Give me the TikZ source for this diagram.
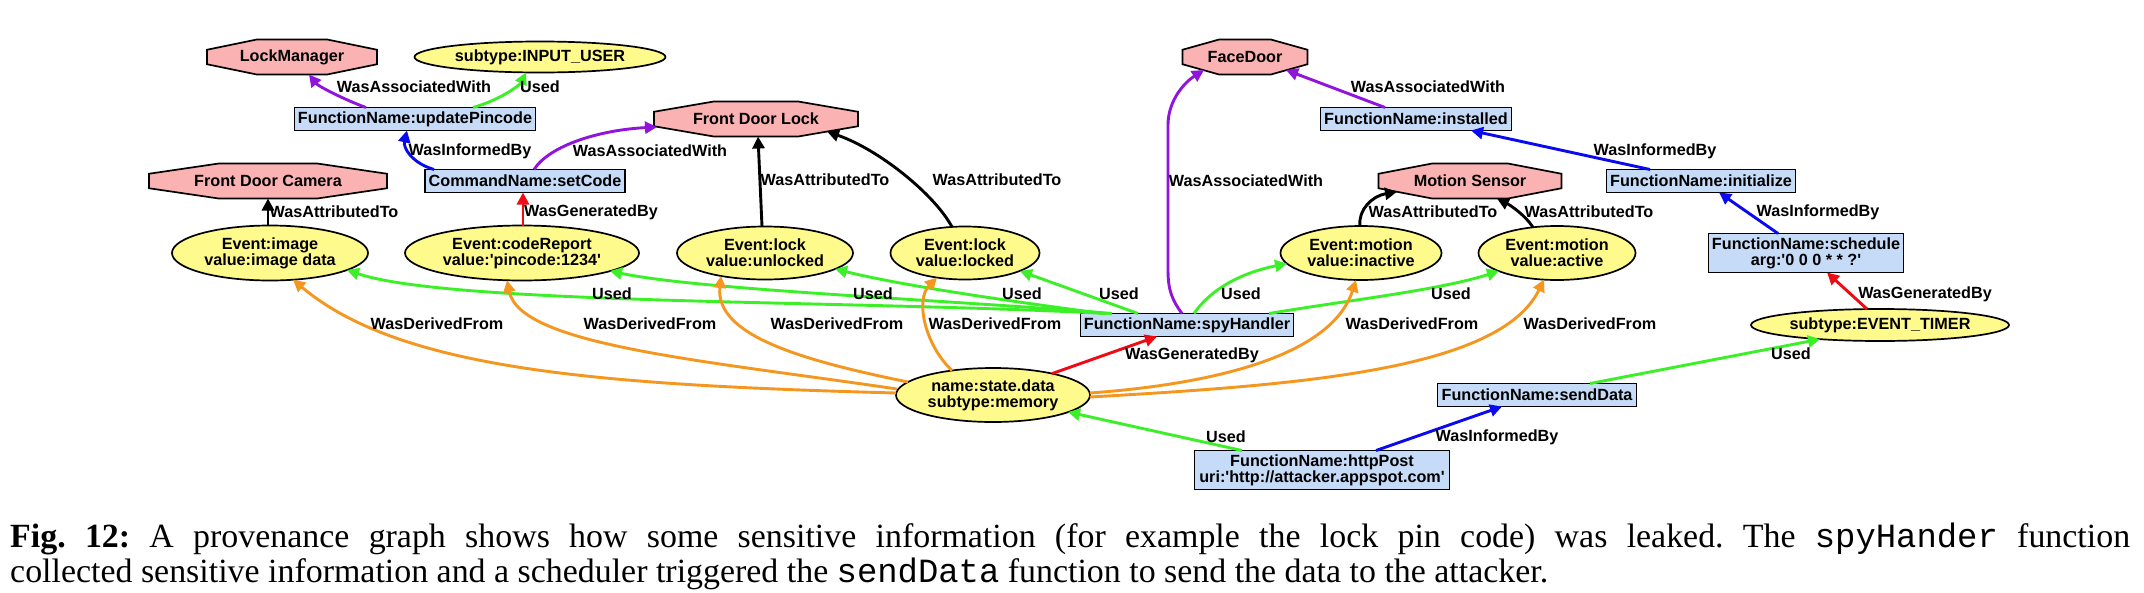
\documentclass[tikz,border=0pt]{standalone}
\usepackage{fontspec}
\setmainfont{Liberation Serif}
\setmonofont{Liberation Mono}
\newfontfamily\gvfont{Liberation Sans}[Ligatures=TeXOff]
\usetikzlibrary{shapes.geometric,arrows.meta,calc}
\definecolor{octpink}{RGB}{250,178,178}
\definecolor{ellyel}{RGB}{255,250,140}
\definecolor{boxblue}{RGB}{198,219,247}
\definecolor{epurple}{RGB}{145,20,220}
\definecolor{egreen}{RGB}{60,240,40}
\definecolor{eblue}{RGB}{10,10,240}
\definecolor{ered}{RGB}{240,10,20}
\definecolor{eorange}{RGB}{245,150,30}
\tikzset{
 gv/.style={font=\gvfont\bfseries\fontsize{16.2}{16}\selectfont},
 ell/.style={gv, ellipse, draw, line width=1.7pt, fill=ellyel, inner sep=0pt, align=center},
 box/.style={gv, rectangle, draw, line width=1.7pt, fill=boxblue, inner sep=0pt, align=center, minimum height=23pt},
 octtext/.style={gv, rectangle, inner sep=0pt},
 octshape/.style={draw, line width=1.7pt, fill=octpink},
 lbl/.style={gv, inner sep=0pt},
 edge/.style={line width=2.9pt, -{Triangle[length=12pt,width=12pt]}},
 captxt/.style={anchor=base west, inner sep=0pt, font=\frenchspacing\fontsize{33.9}{38}\selectfont},
}
\newcommand\octnode[6]{%
 \path[octshape] ({#2-#4/2},{#3-0.207*#5}) -- ({#2-0.207*#4},{#3-#5/2}) -- ({#2+0.207*#4},{#3-#5/2}) -- ({#2+#4/2},{#3-0.207*#5}) -- ({#2+#4/2},{#3+0.207*#5}) -- ({#2+0.207*#4},{#3+#5/2}) -- ({#2-0.207*#4},{#3+#5/2}) -- ({#2-#4/2},{#3+0.207*#5}) -- cycle;
 \node[octtext, minimum width=#4pt, minimum height=#5pt] (#1) at (#2,#3) {#6};}
\begin{document}
\begin{tikzpicture}[x=1pt,y=-1pt]
\fill[white] (0,0) rectangle (2144,592);
\useasboundingbox (0,0) rectangle (2144,592);
% octagons
\octnode{lockmgr}{292}{57}{170}{35}{LockManager}
\octnode{fdl}{756}{119}{204}{35}{Front Door Lock}
\octnode{fdc}{268}{181}{238}{35}{Front Door Camera}
\octnode{facedoor}{1245}{57}{125}{35}{FaceDoor}
\octnode{motion}{1470}{181}{183}{35}{Motion Sensor}
% ellipses
\node[ell, minimum width=251pt, minimum height=31pt] (inputuser) at (540,57) {subtype:INPUT\_USER};
\node[ell, minimum width=196pt, minimum height=55pt] (image) at (270,253) {Event:image\\value:image data};
\node[ell, minimum width=234pt, minimum height=55pt] (coderep) at (522,253) {Event:codeReport\\value:'pincode:1234'};
\node[ell, minimum width=176pt, minimum height=53pt] (unlocked) at (765,253) {Event:lock\\value:unlocked};
\node[ell, minimum width=149pt, minimum height=53pt] (locked) at (965,253) {Event:lock\\value:locked};
\node[ell, minimum width=161pt, minimum height=54pt] (inactive) at (1361,253) {Event:motion\\value:inactive};
\node[ell, minimum width=157pt, minimum height=54pt] (active) at (1557,253) {Event:motion\\value:active};
\node[ell, minimum width=258pt, minimum height=32pt] (timer) at (1880,325) {subtype:EVENT\_TIMER};
\node[ell, minimum width=194pt, minimum height=54pt] (state) at (993,395) {name:state.data\\subtype:memory};
% boxes
\node[box, minimum width=241pt] (updpin) at (415,119) {FunctionName:updatePincode};
\node[box, minimum width=200pt] (setcode) at (525,181) {CommandName:setCode};
\node[box, minimum width=191pt] (installed) at (1416,119) {FunctionName:installed};
\node[box, minimum width=189pt] (initialize) at (1701,181) {FunctionName:initialize};
\node[box, minimum width=195pt, minimum height=39pt] (schedule) at (1806,253) {FunctionName:schedule\\arg:'0 0 0 * * ?'};
\node[box, minimum width=213pt] (spy) at (1187,325) {FunctionName:spyHandler};
\node[box, minimum width=199pt] (senddata) at (1537,395) {FunctionName:sendData};
\node[box, minimum width=255pt, minimum height=39pt] (httppost) at (1322,470) {FunctionName:httpPost\\uri:'http://attacker.appspot.com'};
% edges
\draw[edge,epurple] ($(updpin)+(-49,-11.5)$) .. controls (345,100) and (318,86) .. ($(lockmgr)+(17,17.5)$);
\draw[edge,egreen] ($(updpin)+(58,-11.5)$) .. controls (500,100) and (520,85) .. ($(inputuser)+(-14,15.4)$);
\draw[edge,eblue] ($(setcode)+(-91,-11.5)$) .. controls (412,163) and (403,148) .. ($(updpin)+(-8,11.5)$);
\draw[edge,epurple] ($(setcode)+(9,-11.5)$) .. controls (550,145) and (600,130) .. ($(fdl)+(-99,8)$);
\draw[edge,black] ($(image)+(-2,-27.5)$) -- ($(fdc)+(0,17.5)$);
\draw[edge,ered] ($(coderep)+(1,-27.5)$) -- ($(setcode)+(-2,11.5)$);
\draw[edge,black] ($(unlocked)+(-3,-26.5)$) -- ($(fdl)+(2,17.5)$);
\draw[edge,black] ($(locked)+(-13,-26)$) .. controls (935,195) and (880,150) .. ($(fdl)+(71,12.5)$);
\draw[edge,epurple] ($(spy)+(-5,-11.5)$) .. controls (1172,300) and (1168,290) .. (1168,270) -- (1168,125) .. controls (1168,100) and (1185,82) .. ($(facedoor)+(-41,13)$);
\draw[edge,epurple] ($(installed)+(-31,-11.5)$) -- ($(facedoor)+(41,13)$);
\draw[edge,eblue] ($(initialize)+(-51,-11.5)$) -- ($(installed)+(55,11.5)$);
\draw[edge,eblue] ($(schedule)+(-28,-19.5)$) -- ($(initialize)+(18,11.5)$);
\draw[edge,ered] ($(timer)+(-13,-16)$) -- ($(schedule)+(21,19.5)$);
\draw[edge,egreen] ($(senddata)+(53,-11.5)$) -- ($(timer)+(-60,14.2)$);
\draw[edge,eblue] ($(httppost)+(54,-19.5)$) -- ($(senddata)+(-35,11.5)$);
\draw[edge,egreen] ($(httppost)+(-80,-19.5)$) -- ($(state)+(75,17)$);
\draw[edge,ered] ($(state)+(59,-21.4)$) -- ($(spy)+(-30,11.5)$);
\draw[edge,black] ($(inactive)+(-1,-27)$) .. controls (1358,210) and (1372,196) .. ($(motion)+(-73,10.8)$);
\draw[edge,black] ($(active)+(-24,-25.7)$) .. controls (1525,215) and (1510,205) .. ($(motion)+(27,17.5)$);
\draw[edge,egreen] ($(spy)+(-80,-11.5)$) .. controls (850,300) and (450,305) .. ($(image)+(77,17)$);
\draw[edge,egreen] ($(spy)+(-75,-11.5)$) .. controls (950,300) and (700,290) .. ($(coderep)+(88,18)$);
\draw[edge,egreen] ($(spy)+(-84,-11.5)$) .. controls (1000,300) and (900,285) .. ($(unlocked)+(70,16)$);
\draw[edge,egreen] ($(spy)+(-49,-11.5)$) -- ($(locked)+(55,18)$);
\draw[edge,egreen] ($(spy)+(7,-11.5)$) .. controls (1210,290) and (1240,273) .. ($(inactive)+(-74,10.6)$);
\draw[edge,egreen] ($(spy)+(82,-11.5)$) .. controls (1350,300) and (1440,290) .. ($(active)+(-58,18)$);
\draw[edge,eorange] ($(state)+(-97,-2)$) .. controls (600,385) and (400,370) .. ($(image)+(23,26.7)$);
\draw[edge,eorange] ($(state)+(-96,-6)$) .. controls (700,360) and (520,345) .. ($(coderep)+(-15,27.3)$);
\draw[edge,eorange] ($(state)+(-85,-13)$) .. controls (800,360) and (715,335) .. ($(unlocked)+(-44,23)$);
\draw[edge,eorange] ($(state)+(-41,-24.5)$) .. controls (925,345) and (915,300) .. ($(locked)+(-28,24.6)$);
\draw[edge,eorange] ($(state)+(97,-2)$) .. controls (1200,385) and (1330,360) .. ($(inactive)+(-5,27)$);
\draw[edge,eorange] ($(state)+(97,2)$) .. controls (1300,385) and (1500,370) .. ($(active)+(-13,26.6)$);
% labels
\node[lbl] (l1) at (414,87) {WasAssociatedWith};
\node[lbl] (l2) at (540,87) {Used};
\node[lbl] (l3) at (470,151) {WasInformedBy};
\node[lbl] (l4) at (650,151) {WasAssociatedWith};
\node[lbl] (l5) at (334,212) {WasAttributedTo};
\node[lbl] (l6) at (591,212) {WasGeneratedBy};
\node[lbl] (l7) at (825,180) {WasAttributedTo};
\node[lbl] (l8) at (997,180) {WasAttributedTo};
\node[lbl] (l9) at (1246,181) {WasAssociatedWith};
\node[lbl] (l10) at (1428,87) {WasAssociatedWith};
\node[lbl] (l11) at (1655,151) {WasInformedBy};
\node[lbl] (l12) at (1433,212) {WasAttributedTo};
\node[lbl] (l13) at (1589,212) {WasAttributedTo};
\node[lbl] (l14) at (1818,212) {WasInformedBy};
\node[lbl] (l15) at (1925,294) {WasGeneratedBy};
\node[lbl] (l16) at (612,294) {Used};
\node[lbl] (l17) at (873,294) {Used};
\node[lbl] (l18) at (1022,294) {Used};
\node[lbl] (l19) at (1119,294) {Used};
\node[lbl] (l20) at (1241,294) {Used};
\node[lbl] (l21) at (1451,294) {Used};
\node[lbl] (l22) at (437,324) {WasDerivedFrom};
\node[lbl] (l23) at (650,324) {WasDerivedFrom};
\node[lbl] (l24) at (837,324) {WasDerivedFrom};
\node[lbl] (l25) at (995,324) {WasDerivedFrom};
\node[lbl] (l26) at (1412,324) {WasDerivedFrom};
\node[lbl] (l27) at (1590,324) {WasDerivedFrom};
\node[lbl] (l28) at (1192,355) {WasGeneratedBy};
\node[lbl] (l29) at (1791,354) {Used};
\node[lbl] (l30) at (1226,437) {Used};
\node[lbl] (l31) at (1497,437) {WasInformedBy};
% caption
\node[captxt] (cap1) at (10,547) {\makebox[2120pt][s]{\textbf{Fig. 12:} A provenance graph shows how some sensitive information (for example the lock pin code) was leaked. The \texttt{spyHander} function}};
\node[captxt] (cap2) at (10,582) {collected sensitive information and a scheduler triggered the \texttt{sendData} function to send the data to the attacker.};
\end{tikzpicture}
\end{document}
